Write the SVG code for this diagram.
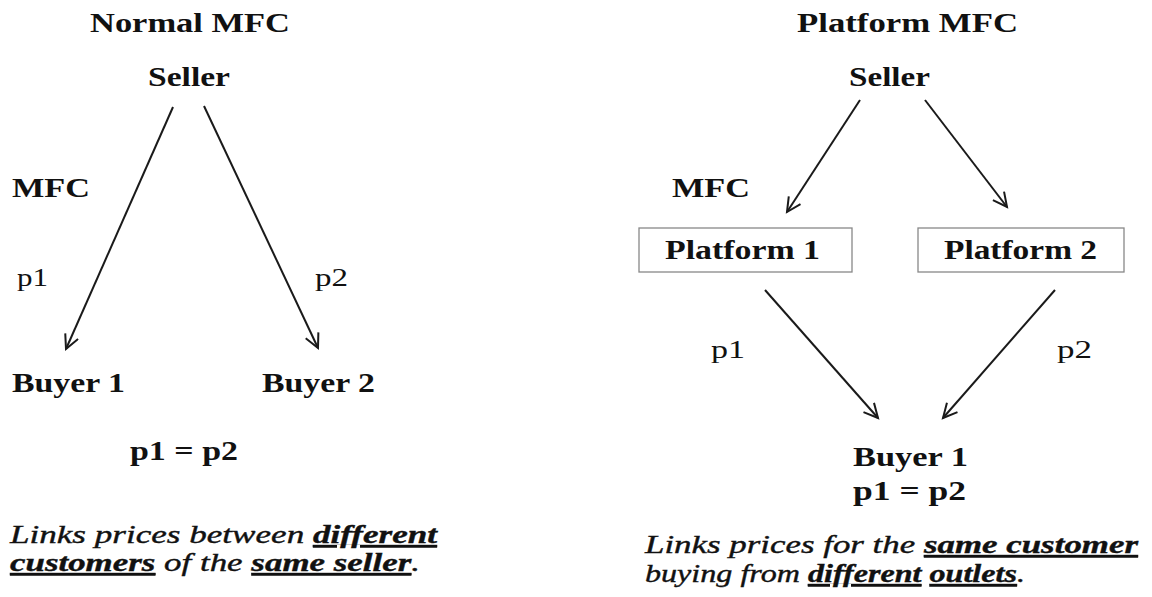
<svg xmlns="http://www.w3.org/2000/svg" width="1152" height="597" viewBox="0 0 1152 597">
  <style>
    .b { font-family: "Liberation Serif", "Times New Roman", serif; font-weight: bold; font-size: 27px; fill: #111; }
    .n { font-family: "Liberation Serif", "Times New Roman", serif; font-size: 25px; fill: #111; }
    .i { font-family: "Liberation Serif", "Times New Roman", serif; font-style: italic; font-size: 26px; fill: #111; stroke: #111; stroke-width: 0.4; }
    .u { font-weight: bold; text-decoration: underline; }
    .edge { stroke: #1a1a1a; stroke-width: 2; fill: none; marker-end: url(#arrow); }
    .box { fill: #fff; stroke: #888; stroke-width: 1.3; }
  </style>
  <defs>
    <marker id="arrow" markerUnits="userSpaceOnUse" markerWidth="20" markerHeight="20" refX="15" refY="8" orient="auto">
      <path d="M1,1 L15,8 L1,15" fill="none" stroke="#1a1a1a" stroke-width="2"/>
    </marker>
  </defs>
  <rect width="1152" height="597" fill="#fff"/>

  <!-- Normal MFC -->
  <g id="normal-title"><text class="b" x="90" y="32" textLength="200" lengthAdjust="spacingAndGlyphs">Normal MFC</text></g>
  <g id="normal-seller"><text class="b" x="148" y="86" textLength="82" lengthAdjust="spacingAndGlyphs">Seller</text></g>
  <g id="normal-mfc"><text class="b" x="12" y="197" textLength="78" lengthAdjust="spacingAndGlyphs">MFC</text></g>
  <g id="normal-buyer1"><text class="b" x="12" y="392" textLength="113" lengthAdjust="spacingAndGlyphs">Buyer 1</text></g>
  <g id="normal-buyer2"><text class="b" x="262" y="392" textLength="113" lengthAdjust="spacingAndGlyphs">Buyer 2</text></g>
  <g id="normal-eq"><text class="b" x="130" y="460" textLength="108" lengthAdjust="spacingAndGlyphs">p1 = p2</text></g>
  <g id="normal-note">
    <text class="i" x="10" y="543" textLength="427" lengthAdjust="spacingAndGlyphs">Links prices between <tspan class="u">different</tspan></text>
    <text class="i" x="10" y="571" textLength="410" lengthAdjust="spacingAndGlyphs"><tspan class="u">customers</tspan> of the <tspan class="u">same seller</tspan>.</text>
  </g>

  <!-- Platform MFC -->
  <g id="platform-title"><text class="b" x="797" y="32" textLength="221" lengthAdjust="spacingAndGlyphs">Platform MFC</text></g>
  <g id="platform-seller"><text class="b" x="849" y="86" textLength="81" lengthAdjust="spacingAndGlyphs">Seller</text></g>
  <g id="platform-mfc"><text class="b" x="672" y="197" textLength="78" lengthAdjust="spacingAndGlyphs">MFC</text></g>
  <g id="platform-1">
    <rect class="box" x="639" y="228" width="213" height="44"/>
    <text class="b" x="665" y="259" textLength="155" lengthAdjust="spacingAndGlyphs">Platform 1</text>
  </g>
  <g id="platform-2">
    <rect class="box" x="918" y="228" width="206" height="44"/>
    <text class="b" x="944" y="259" textLength="153" lengthAdjust="spacingAndGlyphs">Platform 2</text>
  </g>
  <g id="platform-buyer1">
    <text class="b" x="853" y="466" textLength="115" lengthAdjust="spacingAndGlyphs">Buyer 1</text>
    <text class="b" x="853" y="500" textLength="113" lengthAdjust="spacingAndGlyphs">p1 = p2</text>
  </g>
  <g id="platform-note">
    <text class="i" x="645" y="553" textLength="493" lengthAdjust="spacingAndGlyphs">Links prices for the <tspan class="u">same customer</tspan></text>
    <text class="i" x="645" y="582" textLength="380" lengthAdjust="spacingAndGlyphs">buying from <tspan class="u">different</tspan> <tspan class="u">outlets</tspan>.</text>
  </g>

  <!-- connectors -->
  <g id="connectors">
    <line class="edge" x1="173" y1="107" x2="66" y2="349"/>
    <line class="edge" x1="204" y1="106" x2="318" y2="348"/>
    <line class="edge" x1="860" y1="100" x2="787" y2="212"/>
    <line class="edge" x1="925" y1="100" x2="1007" y2="207"/>
    <line class="edge" x1="765" y1="290" x2="878" y2="418"/>
    <line class="edge" x1="1055" y1="290" x2="943" y2="418"/>
    <text class="n" x="17" y="286" textLength="31" lengthAdjust="spacingAndGlyphs">p1</text>
    <text class="n" x="315" y="286" textLength="33" lengthAdjust="spacingAndGlyphs">p2</text>
    <text class="n" x="711" y="358" textLength="34" lengthAdjust="spacingAndGlyphs">p1</text>
    <text class="n" x="1057" y="358" textLength="35" lengthAdjust="spacingAndGlyphs">p2</text>
  </g>
</svg>
